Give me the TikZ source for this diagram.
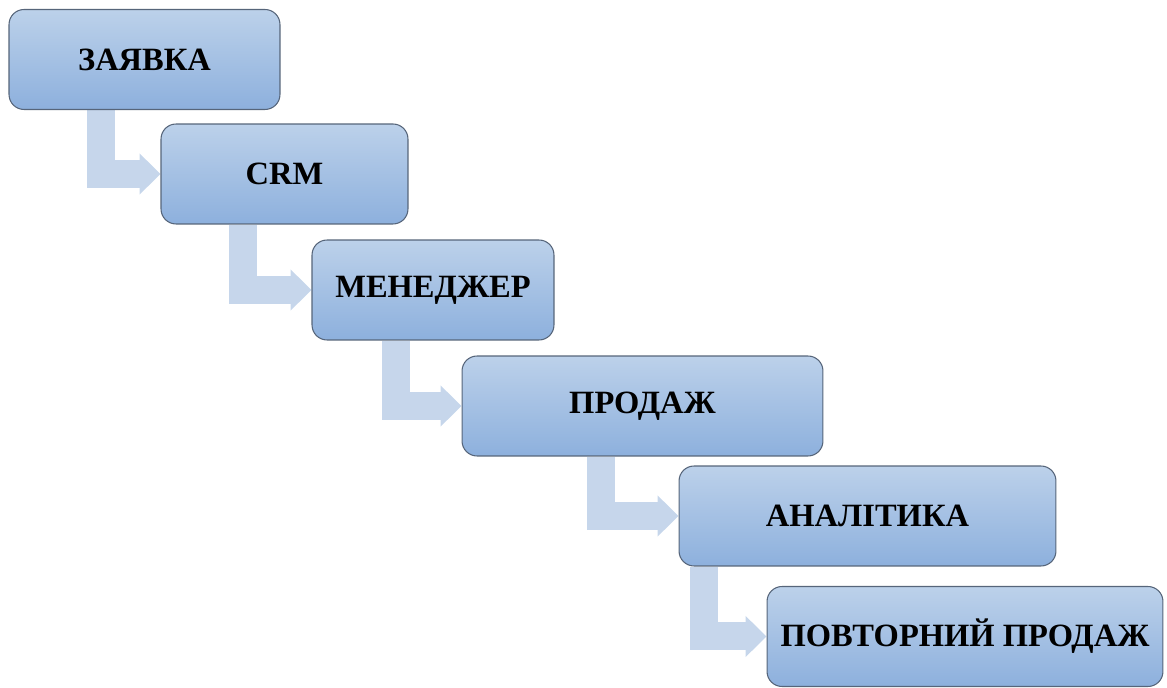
\documentclass[tikz,border=0pt]{standalone}
\usepackage{fontspec}
\setmainfont{Liberation Serif}
\usetikzlibrary{arrows.meta,backgrounds}
\definecolor{boxtop}{HTML}{BCD1EA}
\definecolor{boxbot}{HTML}{8DB0DD}
\definecolor{boxline}{HTML}{56657A}
\definecolor{flowcol}{HTML}{C6D6EB}
\tikzset{
	stage/.style={draw=boxline, line width=0.6pt, rounded corners=0.3cm, top color=boxtop, bottom color=boxbot, minimum height=2cm, inner sep=0pt, font=\fontsize{18.5}{22}\selectfont\bfseries},
	flow/.style={draw=flowcol, line width=0.56cm, -{Triangle[width=0.8cm,length=0.42cm]}}
}

\begin{document}
\begin{tikzpicture}[x=0.02cm,y=-0.02cm]
	%%%%% START %%%%%
	\useasboundingbox (0,0) rectangle (1167,688);
	
	\node[stage, minimum width=5.42cm] (zayavka) at (144.5, 59.5) {ЗАЯВКА};
	\node[stage, minimum width=4.94cm] (crm) at (284.5, 174) {CRM};
	\node[stage, minimum width=4.84cm] (menedzher) at (433, 290) {МЕНЕДЖЕР};
	\node[stage, minimum width=7.22cm] (prodazh) at (642.5, 406) {ПРОДАЖ};
	\node[stage, minimum width=7.54cm] (analityka) at (867.5, 516) {АНАЛІТИКА};
	\node[stage, minimum width=7.92cm] (povtor) at (965, 636.5) {ПОВТОРНИЙ ПРОДАЖ};
	
	% bent arrows behind the boxes
	\begin{scope}[on background layer]
		\draw[flow] ([xshift=-1.19cm]crm.west |- zayavka.south) |- (crm.west);
		\draw[flow] ([xshift=-1.38cm]menedzher.west |- crm.south) |- (menedzher.west);
		\draw[flow] ([xshift=-1.31cm]prodazh.west |- menedzher.south) |- (prodazh.west);
		\draw[flow] ([xshift=-1.55cm]analityka.west |- prodazh.south) |- (analityka.west);
		\draw[flow] ([xshift=-1.26cm]povtor.west |- analityka.south) |- (povtor.west);
	\end{scope}
	
	%%%%% END %%%%%
\end{tikzpicture}
\end{document}
